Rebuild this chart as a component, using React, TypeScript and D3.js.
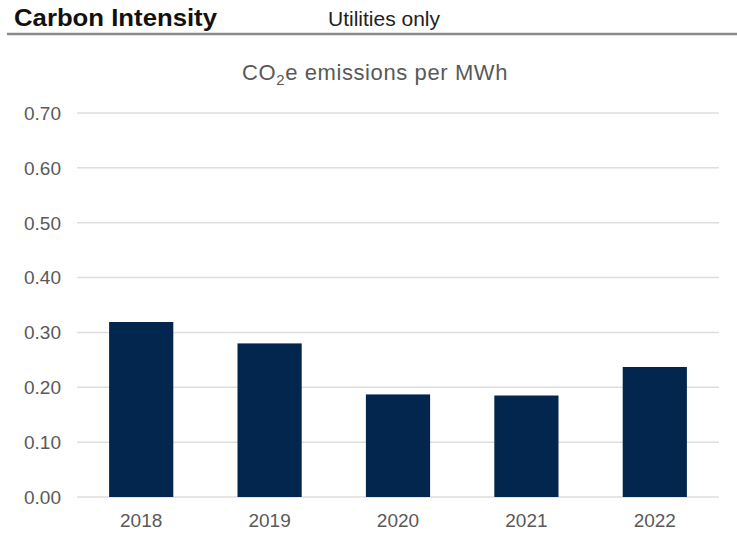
import React from "react";
import * as d3 from "d3";

const years = ["2018", "2019", "2020", "2021", "2022"];
const intensity = [0.319, 0.28, 0.187, 0.185, 0.237];
const yTicks = [0, 0.1, 0.2, 0.3, 0.4, 0.5, 0.6, 0.7];

const W = 737;
const H = 553;
const FONT = "'Liberation Sans', Arial, Helvetica, sans-serif";

export default function App() {
  const x = d3.scaleBand<string>().domain(years).range([77, 719]).paddingInner(0.5).paddingOuter(0.25);
  const y = d3.scaleLinear().domain([0, 0.7]).range([497, 113]);
  const fmt = d3.format(".2f");

  return (
    <svg width={W} height={H} style={{ position: "absolute", left: 0, top: 0, background: "#fff" }} fontFamily={FONT}>
      <rect x={0} y={0} width={W} height={H} fill="#fff" />
      {/* header */}
      <text x={14} y={26} fontSize={24} fontWeight="bold" fill="#111" textLength={203} lengthAdjust="spacingAndGlyphs">
        Carbon Intensity
      </text>
      <text x={328} y={26} fontSize={21} fill="#222" textLength={112} lengthAdjust="spacingAndGlyphs">
        Utilities only
      </text>
      <line x1={7} x2={737} y1={34} y2={34} stroke="#8c8c8c" strokeWidth={2.5} />

      {/* subtitle */}
      <text x={375} y={80} fontSize={22} fill="#595959" textAnchor="middle" letterSpacing={0.6}>
        CO<tspan fontSize={15} dy={5}>2</tspan><tspan dy={-5}>e emissions per MWh</tspan>
      </text>

      {/* gridlines and y labels */}
      {yTicks.map((t) => (
        <g key={t}>
          <line x1={77} x2={719} y1={y(t)} y2={y(t)} stroke="#dedede" strokeWidth={1.5} />
          <text x={61} y={y(t)} dy="0.36em" fontSize={19} fill="#595959" textAnchor="end">
            {fmt(t)}
          </text>
        </g>
      ))}

      {/* bars */}
      {years.map((yr, i) => (
        <rect
          key={yr}
          x={x(yr)}
          y={y(intensity[i])}
          width={x.bandwidth()}
          height={y(0) - y(intensity[i])}
          fill="#03264f"
        />
      ))}

      {/* x labels */}
      {years.map((yr) => (
        <text key={yr} x={(x(yr) as number) + x.bandwidth() / 2} y={527} fontSize={19} fill="#595959" textAnchor="middle">
          {yr}
        </text>
      ))}
    </svg>
  );
}
